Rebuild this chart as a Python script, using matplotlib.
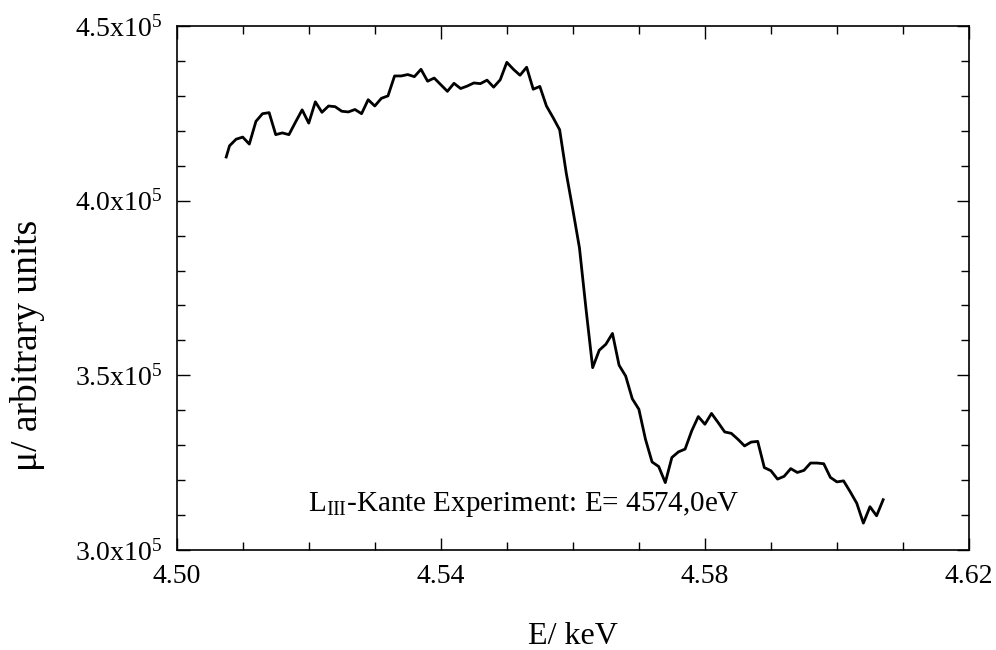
import matplotlib
matplotlib.use("Agg")
import matplotlib.pyplot as plt
from matplotlib.ticker import MultipleLocator, FixedLocator, FuncFormatter

plt.rcParams['font.family'] = ['Liberation Serif', 'DejaVu Serif']
plt.rcParams['mathtext.fontset'] = 'custom'
plt.rcParams['mathtext.rm'] = 'Liberation Serif'
plt.rcParams['mathtext.it'] = 'Liberation Serif:italic'

# photon energy in eV
energy_ev = [
    4507.5, 4508, 4509, 4510, 4511, 4512, 4513, 4514, 4515, 4516,
    4517, 4518, 4519, 4520, 4521, 4522, 4523, 4524, 4525, 4526,
    4527, 4528, 4529, 4530, 4531, 4532, 4533, 4534, 4535, 4536,
    4537, 4538, 4539, 4540, 4541, 4542, 4543, 4544, 4545, 4546,
    4547, 4548, 4549, 4550, 4551, 4552, 4553, 4554, 4555, 4556,
    4557, 4558, 4559, 4560, 4561, 4562, 4563, 4564, 4565, 4566,
    4567, 4568, 4569, 4570, 4571, 4572, 4573, 4574, 4575, 4576,
    4577, 4578, 4579, 4580, 4581, 4582, 4583, 4584, 4585, 4586,
    4587, 4588, 4589, 4590, 4591, 4592, 4593, 4594, 4595, 4596,
    4597, 4598, 4599, 4600, 4601, 4602, 4603, 4604, 4605, 4606,
    4607,
]

# absorption mu in units of 1e3
mu_k = [
    412.5, 415.7, 417.6, 418.2, 416.2, 422.7, 424.9, 425.2, 418.9, 419.4,
    418.9, 422.5, 426.0, 422.2, 428.3, 425.3, 427.1, 426.9, 425.6, 425.4,
    426.1, 424.9, 428.9, 427.1, 429.3, 430.0, 435.7, 435.7, 436.1, 435.5,
    437.6, 434.2, 435.1, 433.2, 431.3, 433.6, 432.1, 432.8, 433.7, 433.5,
    434.5, 432.5, 434.6, 439.6, 437.6, 435.9, 438.2, 431.9, 432.7, 427.1,
    423.8, 420.3, 407.9, 397.4, 386.5, 368.9, 352.2, 357.2, 358.9, 362.0,
    352.9, 349.8, 343.3, 340.3, 331.7, 325.2, 323.9, 319.3, 326.5, 328.1,
    328.9, 334.1, 338.2, 336.0, 339.1, 336.5, 333.8, 333.4, 331.7, 329.8,
    330.9, 331.1, 323.6, 322.7, 320.3, 321.1, 323.3, 322.2, 322.8, 324.9,
    324.9, 324.7, 320.8, 319.5, 319.8, 316.7, 313.4, 307.7, 312.4, 309.8,
    314.4,
]

x_ticks = [4.50, 4.54, 4.58, 4.62]
y_ticks = [3.0e5, 3.5e5, 4.0e5, 4.5e5]

energy_kev = [e / 1000.0 for e in energy_ev]
mu = [m * 1000.0 for m in mu_k]

fig = plt.figure(figsize=(9.96, 6.5), dpi=100)
ax = fig.add_axes([0.1774, 0.1538, 0.7955, 0.8062])

ax.plot(energy_kev, mu, color='black', linewidth=2.0)

ax.set_xlim(4.50, 4.62)
ax.set_ylim(3.0e5, 4.5e5)
ax.xaxis.set_major_locator(FixedLocator(x_ticks))
ax.xaxis.set_minor_locator(MultipleLocator(0.01))
ax.yaxis.set_major_locator(FixedLocator(y_ticks))
ax.yaxis.set_minor_locator(MultipleLocator(0.1e5))
ax.xaxis.set_major_formatter(FuncFormatter(lambda v, p: f"{v:.2f}"))
ax.yaxis.set_major_formatter(FuncFormatter(lambda v, p: f"{v/1e5:.1f}x10$^{{5}}$"))

ax.tick_params(which='both', direction='in', top=True, right=True,
               width=1.0, labelsize=20, pad=10)
ax.tick_params(which='major', length=9)
ax.tick_params(which='minor', length=5.5)
for s in ax.spines.values():
    s.set_linewidth(1.2)

ax.set_xlabel('E/ keV', fontsize=23, labelpad=24)
ax.set_ylabel('\u03bc/ arbitrary units', fontsize=27)
ax.yaxis.set_label_coords(-0.166, 0.39)

ax.text(4.5199, 3.112e5, 'L$_{\\mathrm{III}}$-Kante Experiment: E= 4574,0eV',
        fontsize=21, ha='left', va='baseline')

fig.savefig('out.png', dpi=100)
